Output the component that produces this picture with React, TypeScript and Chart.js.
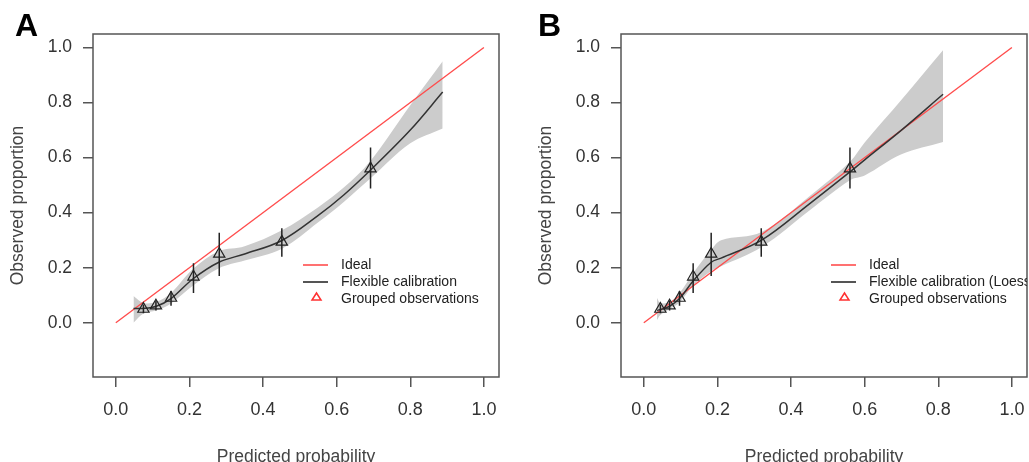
import React, { useEffect, useRef } from "react";
import { Chart, registerables } from "chart.js";

Chart.register(...registerables);

// ---------- data ----------
const xTicks = [0, 0.2, 0.4, 0.6, 0.8, 1.0];
const yTicks = [0, 0.2, 0.4, 0.6, 0.8, 1.0];
const idealX = [0, 1];
const idealY = [0, 1];

// grouped observations (same observed proportions in both panels)
const obsY = [0.05, 0.062, 0.09, 0.167, 0.25, 0.294, 0.56];
const obsLo = [0.035, 0.045, 0.062, 0.108, 0.17, 0.24, 0.488];
const obsHi = [0.066, 0.08, 0.115, 0.216, 0.327, 0.343, 0.637];
const obsAX = [0.075, 0.109, 0.15, 0.211, 0.281, 0.451, 0.692];
const obsBX = [0.045, 0.07, 0.097, 0.134, 0.183, 0.319, 0.56];

// flexible calibration, panel A
const loessAX = [0.048, 0.075, 0.11, 0.15, 0.21, 0.28, 0.35, 0.45, 0.55, 0.62, 0.69, 0.8, 0.888];
const loessAY = [0.052, 0.052, 0.06, 0.088, 0.16, 0.22, 0.25, 0.298, 0.39, 0.465, 0.552, 0.7, 0.838];
const bandAHi = [0.097, 0.072, 0.076, 0.108, 0.196, 0.26, 0.278, 0.335, 0.42, 0.492, 0.585, 0.79, 0.95];
const bandALo = [0.0, 0.034, 0.045, 0.07, 0.135, 0.198, 0.226, 0.268, 0.365, 0.44, 0.522, 0.652, 0.706];

// flexible calibration, panel B
const loessBX = [0.036, 0.045, 0.07, 0.097, 0.134, 0.183, 0.21, 0.32, 0.45, 0.56, 0.6, 0.7, 0.813];
const loessBY = [0.045, 0.048, 0.06, 0.088, 0.152, 0.22, 0.235, 0.3, 0.432, 0.548, 0.592, 0.7, 0.83];
const bandBHi = [0.09, 0.072, 0.075, 0.108, 0.18, 0.265, 0.3, 0.33, 0.46, 0.585, 0.655, 0.81, 0.99];
const bandBLo = [0.01, 0.028, 0.05, 0.074, 0.135, 0.188, 0.205, 0.275, 0.408, 0.518, 0.535, 0.612, 0.657];

const legendA = ["Ideal", "Flexible calibration", "Grouped observations"];
const legendB = ["Ideal", "Flexible calibration (Loess)", "Grouped observations"];

const FONT = "'Liberation Sans', Arial, Helvetica, sans-serif";

function pts(xs: number[], ys: number[]) {
  return xs.map((x, i) => ({ x, y: ys[i] }));
}
function errPts(xs: number[], lo: number[], hi: number[]) {
  const out: any[] = [];
  xs.forEach((x, i) => {
    out.push({ x, y: lo[i] }, { x, y: hi[i] }, { x, y: null });
  });
  return out;
}

function decorPlugin(letter: string, letterX: number, labels: string[]) {
  return {
    id: "decor" + letter,
    afterDraw(chart: any) {
      const { ctx, chartArea: ca } = chart;
      ctx.save();
      ctx.strokeStyle = "#555";
      ctx.lineWidth = 1.5;
      ctx.strokeRect(ca.left, ca.top, ca.right - ca.left, ca.bottom - ca.top);

      ctx.fillStyle = "#000";
      ctx.font = `bold 32px ${FONT}`;
      ctx.textAlign = "left";
      ctx.textBaseline = "alphabetic";
      ctx.fillText(letter, letterX, 36);

      ctx.beginPath();
      ctx.rect(ca.left, ca.top, ca.right - ca.left, ca.bottom - ca.top);
      ctx.clip();
      const lx0 = ca.left + 210;
      const lx1 = ca.left + 235;
      const tx = ca.left + 248;
      const y0 = ca.top + 231;
      const dy = 17;
      ctx.lineWidth = 1.6;
      ctx.strokeStyle = "#ff4d4d";
      ctx.beginPath();
      ctx.moveTo(lx0, y0);
      ctx.lineTo(lx1, y0);
      ctx.stroke();
      ctx.strokeStyle = "#555";
      ctx.lineWidth = 2;
      ctx.beginPath();
      ctx.moveTo(lx0, y0 + dy);
      ctx.lineTo(lx1, y0 + dy);
      ctx.stroke();
      const cx = (lx0 + lx1) / 2 + 1;
      const cy = y0 + 2 * dy - 2;
      ctx.strokeStyle = "#ff3030";
      ctx.lineWidth = 1.5;
      ctx.beginPath();
      ctx.moveTo(cx, cy - 4);
      ctx.lineTo(cx + 4.5, cy + 3);
      ctx.lineTo(cx - 4.5, cy + 3);
      ctx.closePath();
      ctx.stroke();

      ctx.fillStyle = "#222";
      ctx.font = `14px ${FONT}`;
      ctx.textBaseline = "middle";
      labels.forEach((t, i) => ctx.fillText(t, tx, y0 + i * dy));
      ctx.restore();
    },
  };
}

type PanelProps = {
  letter: string;
  letterX: number;
  labels: string[];
  obsX: number[];
  loessX: number[];
  loessY: number[];
  bandHi: number[];
  bandLo: number[];
  width: number;
  left: number;
  padLeft: number;
  padRight: number;
};

function Panel(p: PanelProps) {
  const ref = useRef<HTMLCanvasElement | null>(null);
  useEffect(() => {
    if (!ref.current) return;
    const tickFont = { family: FONT, size: 18 };
    const titleFont = { family: FONT, size: 17.5 };
    const chart = new Chart(ref.current, {
      type: "line",
      data: {
        datasets: [
          {
            label: "bandHi",
            data: pts(p.loessX, p.bandHi),
            borderWidth: 0,
            borderColor: "rgba(0,0,0,0)",
            backgroundColor: "#cccccc",
            fill: "+1",
            pointRadius: 0,
            tension: 0.35,
            order: 5,
          },
          {
            label: "bandLo",
            data: pts(p.loessX, p.bandLo),
            borderWidth: 0,
            borderColor: "rgba(0,0,0,0)",
            fill: false,
            pointRadius: 0,
            tension: 0.35,
            order: 5,
          },
          {
            label: "Ideal",
            data: pts(idealX, idealY),
            borderColor: "#ff4d4d",
            borderWidth: 1.4,
            pointRadius: 0,
            fill: false,
            order: 4,
          },
          {
            label: "Flexible calibration",
            data: pts(p.loessX, p.loessY),
            borderColor: "#333",
            borderWidth: 1.5,
            pointRadius: 0,
            fill: false,
            tension: 0.35,
            order: 3,
          },
          {
            label: "CI",
            data: errPts(p.obsX, obsLo, obsHi),
            borderColor: "#222",
            borderWidth: 1.5,
            pointRadius: 0,
            spanGaps: false,
            fill: false,
            order: 2,
          },
          {
            label: "Grouped observations",
            data: pts(p.obsX, obsY),
            showLine: false,
            pointStyle: "triangle",
            pointRadius: 6.5,
            pointBorderColor: "#222",
            pointBackgroundColor: "rgba(0,0,0,0)",
            pointBorderWidth: 1.2,
            fill: false,
            order: 1,
          },
        ] as any,
      },
      options: {
        responsive: false,
        animation: false,
        devicePixelRatio: 1,
        layout: {
          autoPadding: false,
          padding: { left: p.padLeft, right: p.padRight, top: 34, bottom: 0 },
        },
        plugins: { legend: { display: false }, tooltip: { enabled: false } },
        scales: {
          x: {
            type: "linear",
            min: -0.062,
            max: 1.041,
            afterBuildTicks: (s: any) => {
              s.ticks = xTicks.map((v) => ({ value: v }));
            },
            afterFit: (s: any) => {
              s.height = 85;
              s.paddingLeft = 0;
              s.paddingRight = 0;
            },
            ticks: {
              callback: (v: any) => Number(v).toFixed(1),
              font: tickFont,
              color: "#333",
              padding: 12,
              maxRotation: 0,
            },
            grid: { drawOnChartArea: false, drawTicks: true, tickLength: 10, color: "#555", lineWidth: 1.5 },
            border: { display: false },
            title: {
              display: true,
              text: "Predicted probability",
              font: titleFont,
              color: "#444",
              padding: { top: 0, bottom: -6 },
            },
          },
          y: {
            type: "linear",
            min: -0.197,
            max: 1.049,
            afterBuildTicks: (s: any) => {
              s.ticks = yTicks.map((v) => ({ value: v }));
            },
            afterFit: (s: any) => {
              s.width = 93;
              s.paddingTop = 0;
              s.paddingBottom = 0;
            },
            ticks: {
              callback: (v: any) => Number(v).toFixed(1),
              font: { family: FONT, size: 17.5 },
              color: "#333",
              padding: 11,
            },
            grid: { drawOnChartArea: false, drawTicks: true, tickLength: 10, color: "#555", lineWidth: 1.5 },
            border: { display: false },
            title: {
              display: true,
              text: "Observed proportion",
              font: titleFont,
              color: "#444",
              padding: { top: 8, bottom: 0 },
            },
          },
        },
      } as any,
      plugins: [decorPlugin(p.letter, p.letterX, p.labels)],
    });
    return () => chart.destroy();
  }, []);
  return (
    <canvas
      ref={ref}
      width={p.width}
      height={462}
      style={{ position: "absolute", left: p.left, top: 0, width: p.width, height: 462, display: "block" }}
    />
  );
}

export default function App() {
  return (
    <div
      style={{
        position: "fixed",
        left: 0,
        top: 0,
        width: 1029,
        height: 462,
        background: "#fff",
        overflow: "hidden",
      }}
    >
      <Panel
        letter="A"
        letterX={15}
        labels={legendA}
        obsX={obsAX}
        loessX={loessAX}
        loessY={loessAY}
        bandHi={bandAHi}
        bandLo={bandALo}
        width={515}
        left={0}
        padLeft={0}
        padRight={16}
      />
      <Panel
        letter="B"
        letterX={23}
        labels={legendB}
        obsX={obsBX}
        loessX={loessBX}
        loessY={loessBY}
        bandHi={bandBHi}
        bandLo={bandBLo}
        width={514}
        left={515}
        padLeft={13}
        padRight={2}
      />
    </div>
  );
}
